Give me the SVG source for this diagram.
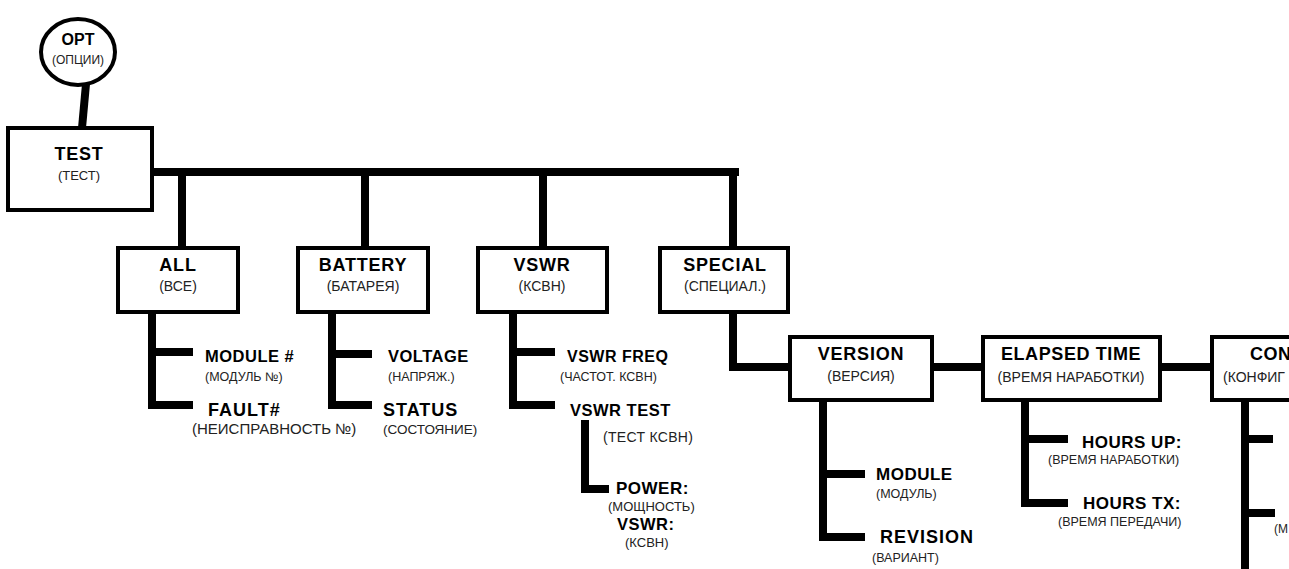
<svg xmlns="http://www.w3.org/2000/svg" width="1289" height="569" viewBox="0 0 1289 569">
<style>
.box{fill:#fff;stroke:#000;stroke-width:4}
.ln{fill:none;stroke:#000;stroke-width:8;stroke-linejoin:miter;stroke-linecap:butt}
.t{font-family:"Liberation Sans",Arial,sans-serif;font-weight:bold;font-size:18px;letter-spacing:0.8px;fill:#000;text-anchor:middle}
.st{font-family:"Liberation Sans",Arial,sans-serif;font-size:14px;fill:#222;text-anchor:middle}
.c{font-family:"Liberation Sans",Arial,sans-serif;font-weight:bold;font-size:17px;letter-spacing:0.5px;fill:#000}
.cs{font-family:"Liberation Sans",Arial,sans-serif;font-size:12.5px;fill:#222}
</style>
<rect width="1289" height="569" fill="#fff"/>
<g id="connectors">
<path class="ln" d="M86,84 L82,128" stroke-width="6"/>
<path class="ln" d="M152,172 H739"/>
<path class="ln" d="M182,172 V249 M365,172 V249 M543,172 V249 M733,172 V249" stroke-width="7"/>
<path class="ln" d="M152,313 V405 H193 M152,352 H193"/>
<path class="ln" d="M332,313 V405 H372 M332,354 H372"/>
<path class="ln" d="M513,313 V405 H555 M513,352 H555"/>
<path class="ln" d="M585,420 V489 H609"/>
<path class="ln" d="M733,313 V367 H790"/>
<path class="ln" d="M823,400 V537 H865 M823,474 H865"/>
<path class="ln" d="M932,367 H983 M1160,367 H1212"/>
<path class="ln" d="M1025,400 V503 H1068 M1025,439 H1068"/>
<path class="ln" d="M1245,400 V569 M1245,439 H1273 M1245,513 H1275"/>
</g>
<g id="opt">
<ellipse cx="78" cy="52" rx="37" ry="33" fill="#fff" stroke="#000" stroke-width="4"/>
<text class="t" x="78" y="45" style="font-size:16px;letter-spacing:0">OPT</text>
<text class="st" x="78" y="64" style="font-size:12px">(ОПЦИИ)</text>
</g>
<g id="test">
<rect class="box" x="8" y="128" width="144" height="82"/>
<text class="t" x="79" y="160">TEST</text>
<text class="st" x="79" y="180" style="font-size:13px">(ТЕСТ)</text>
</g>
<g id="all">
<rect class="box" x="118" y="248" width="120" height="64"/>
<text class="t" x="178" y="271">ALL</text>
<text class="st" x="178" y="291">(ВСЕ)</text>
</g>
<g id="battery">
<rect class="box" x="298" y="248" width="130" height="64"/>
<text class="t" x="363" y="271">BATTERY</text>
<text class="st" x="363" y="291">(БАТАРЕЯ)</text>
</g>
<g id="vswr">
<rect class="box" x="478" y="248" width="129" height="64"/>
<text class="t" x="542" y="271">VSWR</text>
<text class="st" x="542" y="291">(КСВН)</text>
</g>
<g id="special">
<rect class="box" x="660" y="248" width="128" height="64"/>
<text class="t" x="725" y="271">SPECIAL</text>
<text class="st" x="725" y="291">(СПЕЦИАЛ.)</text>
</g>
<g id="module-num">
<text class="c" x="205" y="362" style="font-size:16.5px">MODULE #</text>
<text class="cs" x="205" y="381">(МОДУЛЬ №)</text>
</g>
<g id="fault">
<text class="c" x="208" y="416" style="font-size:18px;letter-spacing:1px">FAULT#</text>
<text class="cs" x="192" y="434" style="font-size:15px">(НЕИСПРАВНОСТЬ №)</text>
</g>
<g id="voltage">
<text class="c" x="388" y="362" style="font-size:16.5px">VOLTAGE</text>
<text class="cs" x="388" y="381">(НАПРЯЖ.)</text>
</g>
<g id="status">
<text class="c" x="383" y="416" style="font-size:18px;letter-spacing:1px">STATUS</text>
<text class="cs" x="383" y="434" style="font-size:13.5px">(СОСТОЯНИЕ)</text>
</g>
<g id="vswr-freq">
<text class="c" x="567" y="362" style="font-size:16px">VSWR FREQ</text>
<text class="cs" x="560" y="381">(ЧАСТОТ. КСВН)</text>
</g>
<g id="vswr-test">
<text class="c" x="570" y="416" style="font-size:16.5px">VSWR TEST</text>
<text class="cs" x="603" y="442" style="font-size:14px;letter-spacing:0.3px">(ТЕСТ КСВН)</text>
</g>
<g id="power">
<text class="c" x="616" y="494">POWER:</text>
<text class="cs" x="608" y="511" style="font-size:13px">(МОЩНОСТЬ)</text>
<text class="c" x="617" y="530" style="font-size:16.5px">VSWR:</text>
<text class="cs" x="625" y="547" style="font-size:13px">(КСВН)</text>
</g>
<g id="version">
<rect class="box" x="790" y="337" width="142" height="63"/>
<text class="t" x="861" y="360">VERSION</text>
<text class="st" x="861" y="381">(ВЕРСИЯ)</text>
</g>
<g id="elapsed">
<rect class="box" x="983" y="337" width="177" height="63"/>
<text class="t" x="1071" y="360" style="letter-spacing:0.6px">ELAPSED TIME</text>
<text class="st" x="1071" y="382">(ВРЕМЯ НАРАБОТКИ)</text>
</g>
<g id="config">
<rect class="box" x="1212" y="337" width="100" height="63"/>
<text class="c" x="1250" y="360" style="font-size:18px">CON</text>
<text class="cs" x="1223" y="382" style="font-size:14px">(КОНФИГ</text>
</g>
<g id="module">
<text class="c" x="876" y="480">MODULE</text>
<text class="cs" x="876" y="498">(МОДУЛЬ)</text>
</g>
<g id="revision">
<text class="c" x="880" y="543" style="font-size:18px;letter-spacing:1px">REVISION</text>
<text class="cs" x="872" y="562">(ВАРИАНТ)</text>
</g>
<g id="hours-up">
<text class="c" x="1082" y="448">HOURS UP:</text>
<text class="cs" x="1048" y="464">(ВРЕМЯ НАРАБОТКИ)</text>
</g>
<g id="hours-tx">
<text class="c" x="1083" y="509">HOURS TX:</text>
<text class="cs" x="1058" y="526">(ВРЕМЯ ПЕРЕДАЧИ)</text>
</g>
<g id="config-sub">
<text class="cs" x="1274" y="533" style="font-size:12px">(М</text>
</g>
</svg>
